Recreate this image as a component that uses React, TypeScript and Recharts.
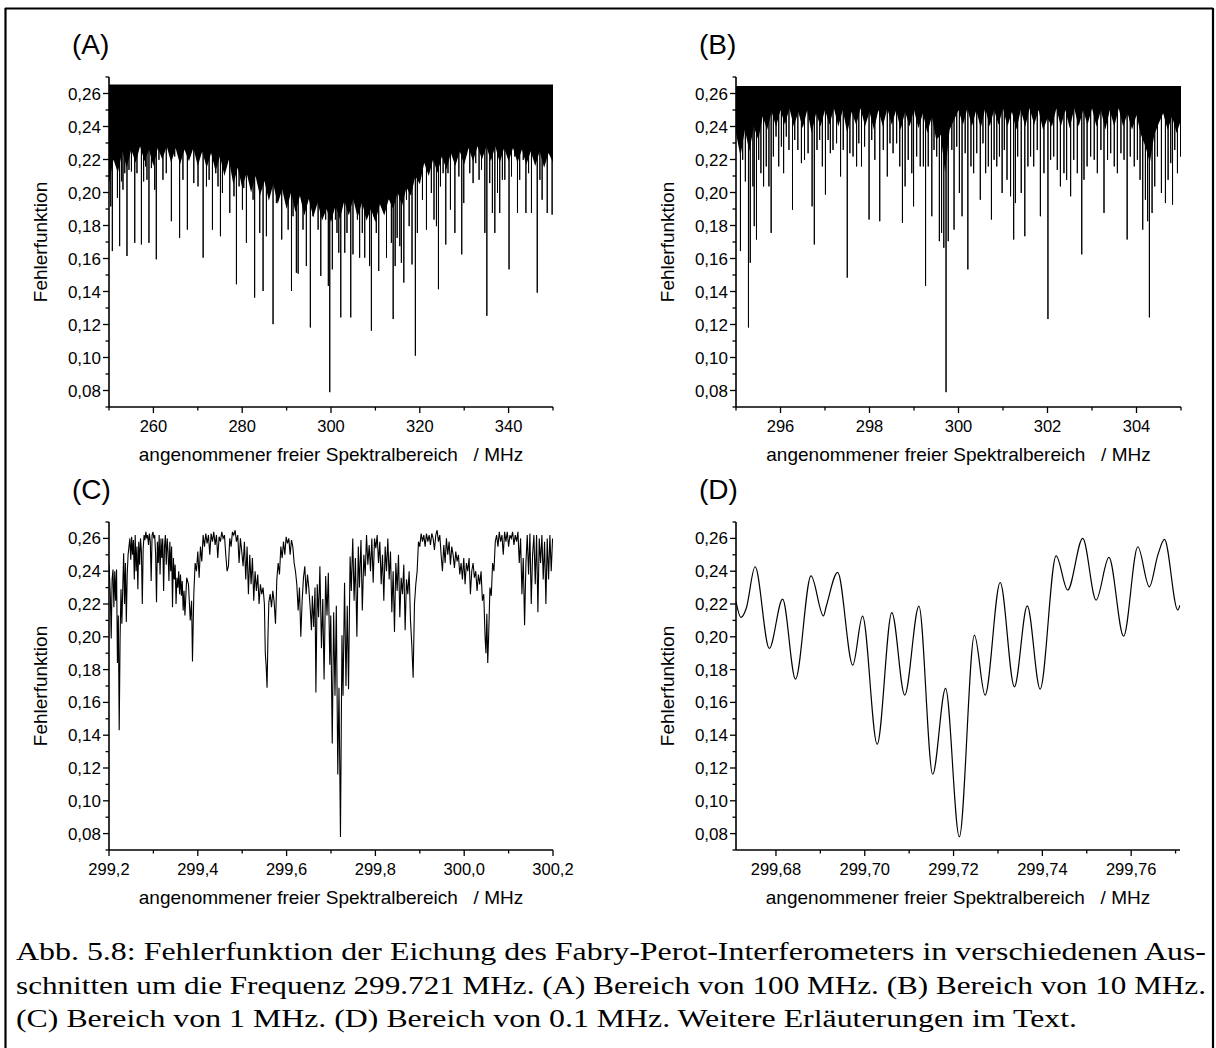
import React from "react";
import { ComposedChart, Line, Area, XAxis, YAxis } from "recharts";

const SANS = '"Liberation Sans", Arial, Helvetica, sans-serif';
const SERIF = '"Liberation Serif", "Times New Roman", serif';

// shared y axis
const Y_DOMAIN: [number, number] = [0.07, 0.27];
const yTicks = [0.07, 0.08, 0.09, 0.1, 0.11, 0.12, 0.13, 0.14, 0.15, 0.16, 0.17, 0.18, 0.19, 0.2, 0.21, 0.22, 0.23, 0.24, 0.25, 0.26, 0.27];
const yLabels = ["", "0,08", "", "0,10", "", "0,12", "", "0,14", "", "0,16", "", "0,18", "", "0,20", "", "0,22", "", "0,24", "", "0,26", ""];

// (A) 100 MHz window
const xTicksA = [250, 260, 270, 280, 290, 300, 310, 320, 330, 340, 350];
const xLabelsA = ["", "260", "", "280", "", "300", "", "320", "", "340", ""];
const bandTopA = 0.2655;
// lower edge of the dense (solid black) part of the trace
const bandLowA: [number, number][] = [
  [250, 0.205], [251, 0.22], [252, 0.212], [253, 0.225], [254, 0.215], [255, 0.226], [256, 0.218], [257, 0.228],
  [258, 0.219], [259, 0.226], [260, 0.216], [261, 0.227], [262, 0.22], [263, 0.228], [264, 0.218], [265, 0.227],
  [266, 0.217], [267, 0.226], [268, 0.219], [269, 0.227], [270, 0.216], [271, 0.225], [272, 0.215], [273, 0.224],
  [274, 0.213], [275, 0.222], [276, 0.21], [277, 0.22], [278, 0.205], [279, 0.215], [280, 0.203], [281, 0.212],
  [282, 0.2], [283, 0.21], [284, 0.198], [285, 0.207], [286, 0.195], [287, 0.205], [288, 0.193], [289, 0.202],
  [290, 0.19], [291, 0.2], [292, 0.188], [293, 0.198], [294, 0.186], [295, 0.196], [296, 0.185], [297, 0.194],
  [298, 0.183], [299, 0.19], [300, 0.182], [301, 0.192], [302, 0.184], [303, 0.195], [304, 0.186], [305, 0.196],
  [306, 0.185], [307, 0.194], [308, 0.183], [309, 0.19], [310, 0.182], [311, 0.193], [312, 0.186], [313, 0.196],
  [314, 0.19], [315, 0.2], [316, 0.192], [317, 0.203], [318, 0.198], [319, 0.21], [320, 0.205], [321, 0.218],
  [322, 0.21], [323, 0.22], [324, 0.212], [325, 0.222], [326, 0.214], [327, 0.224], [328, 0.216], [329, 0.225],
  [330, 0.217], [331, 0.227], [332, 0.219], [333, 0.228], [334, 0.22], [335, 0.228], [336, 0.219], [337, 0.228],
  [338, 0.218], [339, 0.227], [340, 0.219], [341, 0.227], [342, 0.218], [343, 0.226], [344, 0.217], [345, 0.225],
  [346, 0.216], [347, 0.225], [348, 0.215], [349, 0.224], [350, 0.218],
];
const spikesA: [number, number][] = [
  [250.4, 0.1916], [250.75, 0.1645], [251.5, 0.2178], [251.9, 0.1967], [252.4, 0.1675], [252.85, 0.2067],
  [253.15, 0.2017], [253.55, 0.2117], [254.05, 0.1615], [254.5, 0.2137], [255.05, 0.2127], [255.8, 0.1695],
  [256.3, 0.2117], [256.7, 0.2349], [257.3, 0.1685], [257.8, 0.2067], [258.25, 0.2158], [258.55, 0.2077],
  [259.0, 0.1695], [259.55, 0.2148], [259.9, 0.2238], [260.3, 0.2017], [260.65, 0.1595], [261.25, 0.2198],
  [261.65, 0.2298], [262.15, 0.2077], [262.9, 0.2117], [264.05, 0.1826], [264.8, 0.2218], [265.9, 0.1725],
  [266.65, 0.2077], [267.65, 0.1775], [268.15, 0.2218], [269.1, 0.2057], [270.05, 0.2037], [271.2, 0.1605],
  [271.95, 0.2037], [272.55, 0.2077], [273.3, 0.1775], [274.05, 0.2117], [274.55, 0.2037], [275.1, 0.1735],
  [275.55, 0.1997], [276.45, 0.2158], [277.2, 0.1876], [278.15, 0.1977], [278.7, 0.1444], [279.3, 0.2037],
  [280.05, 0.1896], [280.35, 0.2027], [280.95, 0.1695], [281.85, 0.2178], [282.45, 0.1956], [282.8, 0.1363],
  [283.55, 0.2117], [283.95, 0.1755], [284.45, 0.2137], [284.7, 0.1403], [285.45, 0.1735], [286.05, 0.2037],
  [286.95, 0.1202], [287.7, 0.1936], [288.3, 0.2037], [288.9, 0.1715], [289.6, 0.2158], [290.35, 0.1775],
  [291.1, 0.1403], [291.45, 0.1856], [292.2, 0.1514], [292.6, 0.1508], [293.35, 0.2037], [293.7, 0.1775],
  [294.45, 0.1554], [295.35, 0.1182], [295.95, 0.1856], [296.55, 0.2168], [297.1, 0.1775], [297.7, 0.1494],
  [298.2, 0.1956], [298.8, 0.1836], [299.4, 0.1434], [299.72, 0.079], [300.3, 0.1534], [301.0, 0.1836],
  [301.35, 0.1755], [301.75, 0.1635], [302.2, 0.1243], [302.7, 0.1956], [303.1, 0.1635], [303.6, 0.1755],
  [304.45, 0.1243], [304.95, 0.1625], [305.55, 0.1956], [305.95, 0.1836], [306.45, 0.1605], [307.05, 0.1755],
  [307.6, 0.1605], [308.1, 0.1876], [308.7, 0.1554], [309.1, 0.1162], [309.6, 0.1856], [310.2, 0.1755],
  [310.75, 0.1524], [311.35, 0.2037], [311.75, 0.2077], [312.5, 0.1605], [313.1, 0.1956], [313.6, 0.1695],
  [314.0, 0.1233], [314.45, 0.1554], [314.9, 0.1725], [315.5, 0.1675], [315.85, 0.1574], [316.4, 0.1454],
  [317.0, 0.1956], [317.6, 0.1796], [318.25, 0.1564], [319.0, 0.1011], [319.45, 0.1755], [320.0, 0.2198],
  [320.6, 0.1956], [321.5, 0.1775], [322.1, 0.2198], [322.6, 0.1997], [323.2, 0.1836], [323.75, 0.1796],
  [324.2, 0.1414], [324.65, 0.2037], [325.25, 0.2117], [325.85, 0.1685], [326.35, 0.2117], [326.9, 0.1896],
  [327.9, 0.1755], [328.25, 0.2218], [328.8, 0.2097], [329.45, 0.1625], [329.9, 0.1936], [330.5, 0.2238],
  [331.25, 0.2117], [332.0, 0.2057], [332.6, 0.2178], [333.35, 0.2077], [333.9, 0.2137], [334.65, 0.1755],
  [335.1, 0.1253], [335.75, 0.2057], [336.35, 0.1876], [336.9, 0.1755], [337.5, 0.1997], [338.0, 0.1876],
  [338.6, 0.2077], [339.15, 0.2077], [340.1, 0.1534], [340.65, 0.2097], [341.4, 0.2218], [342.0, 0.1876],
  [342.5, 0.2077], [343.3, 0.2198], [343.9, 0.1876], [344.5, 0.2117], [345.15, 0.1876], [345.9, 0.2218],
  [346.45, 0.1393], [347.05, 0.2077], [347.55, 0.1956], [348.15, 0.2198], [348.7, 0.1876], [349.3, 0.2238],
  [349.8, 0.1866],
];

// (B) 10 MHz window
const xTicksB = [295, 296, 297, 298, 299, 300, 301, 302, 303, 304, 305];
const xLabelsB = ["", "296", "", "298", "", "300", "", "302", "", "304", ""];
const bandTopB = 0.2645;
const bandLowB: [number, number][] = [
  [295.0, 0.236], [295.1, 0.222], [295.2, 0.238], [295.3, 0.225], [295.4, 0.24], [295.5, 0.232], [295.6, 0.246],
  [295.7, 0.238], [295.8, 0.249], [295.9, 0.24], [296.0, 0.25], [296.1, 0.241], [296.2, 0.251], [296.3, 0.24],
  [296.4, 0.249], [296.5, 0.239], [296.6, 0.25], [296.7, 0.236], [296.8, 0.248], [296.9, 0.24], [297.0, 0.25],
  [297.1, 0.241], [297.2, 0.251], [297.3, 0.24], [297.4, 0.25], [297.5, 0.236], [297.6, 0.249], [297.7, 0.241],
  [297.8, 0.251], [297.9, 0.24], [298.0, 0.249], [298.1, 0.238], [298.2, 0.25], [298.3, 0.24], [298.4, 0.251],
  [298.5, 0.241], [298.6, 0.25], [298.7, 0.238], [298.8, 0.249], [298.9, 0.24], [299.0, 0.25], [299.1, 0.239],
  [299.2, 0.248], [299.3, 0.236], [299.4, 0.246], [299.5, 0.232], [299.6, 0.235], [299.7, 0.212], [299.8, 0.238],
  [299.9, 0.244], [300.0, 0.25], [300.1, 0.241], [300.2, 0.251], [300.3, 0.24], [300.4, 0.25], [300.5, 0.239],
  [300.6, 0.251], [300.7, 0.24], [300.8, 0.25], [300.9, 0.241], [301.0, 0.251], [301.1, 0.24], [301.2, 0.249],
  [301.3, 0.238], [301.4, 0.25], [301.5, 0.24], [301.6, 0.251], [301.7, 0.241], [301.8, 0.25], [301.9, 0.238],
  [302.0, 0.245], [302.1, 0.24], [302.2, 0.251], [302.3, 0.24], [302.4, 0.25], [302.5, 0.239], [302.6, 0.251],
  [302.7, 0.24], [302.8, 0.25], [302.9, 0.241], [303.0, 0.251], [303.1, 0.24], [303.2, 0.25], [303.3, 0.238],
  [303.4, 0.25], [303.5, 0.24], [303.6, 0.251], [303.7, 0.24], [303.8, 0.248], [303.9, 0.238], [304.0, 0.247],
  [304.1, 0.235], [304.2, 0.228], [304.3, 0.218], [304.4, 0.235], [304.5, 0.242], [304.6, 0.248], [304.7, 0.238],
  [304.8, 0.246], [304.9, 0.236], [305.0, 0.244],
];
const spikesB: [number, number][] = [
  [295.04, 0.25], [295.1, 0.1645], [295.15, 0.2198], [295.21, 0.2067], [295.28, 0.1182], [295.32, 0.1574],
  [295.38, 0.2037], [295.41, 0.1796], [295.46, 0.1715], [295.51, 0.2198], [295.56, 0.2117], [295.62, 0.2037],
  [295.68, 0.2158], [295.74, 0.2037], [295.79, 0.1755], [295.84, 0.2218], [295.9, 0.2339], [295.96, 0.2158],
  [296.02, 0.2278], [296.07, 0.2117], [296.13, 0.2339], [296.19, 0.2258], [296.27, 0.1896], [296.32, 0.2318],
  [296.39, 0.2258], [296.47, 0.2178], [296.54, 0.2198], [296.62, 0.2238], [296.71, 0.1916], [296.76, 0.1685],
  [296.82, 0.2258], [296.88, 0.2318], [296.94, 0.2158], [297.01, 0.1987], [297.07, 0.2318], [297.12, 0.2238],
  [297.18, 0.2258], [297.26, 0.2298], [297.35, 0.2097], [297.41, 0.2258], [297.5, 0.1484], [297.56, 0.2238],
  [297.63, 0.2218], [297.71, 0.2158], [297.76, 0.2298], [297.82, 0.2158], [297.89, 0.2278], [297.99, 0.1836],
  [298.05, 0.2318], [298.12, 0.2198], [298.23, 0.1826], [298.31, 0.2258], [298.4, 0.2097], [298.46, 0.2298],
  [298.53, 0.2238], [298.61, 0.2298], [298.68, 0.2158], [298.74, 0.1816], [298.8, 0.2037], [298.87, 0.2198],
  [298.95, 0.2117], [298.99, 0.1916], [299.06, 0.2218], [299.14, 0.2158], [299.21, 0.2158], [299.26, 0.1434],
  [299.32, 0.2158], [299.4, 0.1856], [299.45, 0.2258], [299.51, 0.2218], [299.57, 0.1705], [299.62, 0.1755],
  [299.67, 0.1665], [299.72, 0.079], [299.77, 0.1705], [299.85, 0.2258], [299.9, 0.1775], [299.96, 0.2278],
  [300.02, 0.1997], [300.08, 0.1856], [300.15, 0.2238], [300.21, 0.1534], [300.28, 0.2158], [300.34, 0.2117],
  [300.41, 0.2238], [300.49, 0.1956], [300.55, 0.2298], [300.61, 0.2117], [300.67, 0.2158], [300.74, 0.1836],
  [300.8, 0.2198], [300.86, 0.2158], [300.92, 0.2218], [300.98, 0.1997], [301.03, 0.2258], [301.09, 0.2077],
  [301.17, 0.1977], [301.24, 0.1715], [301.28, 0.1936], [301.33, 0.2218], [301.41, 0.1997], [301.49, 0.1735],
  [301.56, 0.2158], [301.62, 0.2218], [301.69, 0.2158], [301.77, 0.2258], [301.84, 0.1856], [301.92, 0.2117],
  [302.01, 0.1233], [302.07, 0.2198], [302.14, 0.2218], [302.22, 0.2137], [302.29, 0.2037], [302.37, 0.2117],
  [302.43, 0.2077], [302.52, 0.1977], [302.59, 0.2198], [302.67, 0.2117], [302.77, 0.1625], [302.82, 0.2077],
  [302.89, 0.2158], [302.97, 0.2218], [303.05, 0.2198], [303.12, 0.2117], [303.2, 0.2258], [303.27, 0.1876],
  [303.35, 0.2198], [303.42, 0.2238], [303.5, 0.2158], [303.57, 0.2117], [303.65, 0.2238], [303.72, 0.2198],
  [303.79, 0.1715], [303.86, 0.2218], [303.95, 0.2158], [304.02, 0.2198], [304.08, 0.2077], [304.14, 0.1775],
  [304.2, 0.1956], [304.25, 0.1826], [304.29, 0.1243], [304.35, 0.1876], [304.41, 0.2037], [304.47, 0.2218],
  [304.56, 0.1997], [304.65, 0.1936], [304.71, 0.2077], [304.77, 0.2178], [304.81, 0.1926], [304.86, 0.2258],
  [304.92, 0.2117], [304.99, 0.2218],
];

// (C) 1 MHz window
const xTicksC = [299.2, 299.3, 299.4, 299.5, 299.6, 299.7, 299.8, 299.9, 300.0, 300.1, 300.2];
const xLabelsC = ["299,2", "", "299,4", "", "299,6", "", "299,8", "", "300,0", "", "300,2"];
const traceC: [number, number][] = [
  [299.2, 0.244], [299.203, 0.225], [299.205, 0.199], [299.207, 0.235], [299.209, 0.241], [299.211, 0.218],
  [299.213, 0.24], [299.215, 0.222], [299.217, 0.241], [299.219, 0.184], [299.221, 0.213], [299.223, 0.143],
  [299.225, 0.2], [299.227, 0.229], [299.229, 0.208], [299.231, 0.23], [299.233, 0.251], [299.235, 0.22],
  [299.237, 0.245], [299.239, 0.209], [299.241, 0.238], [299.243, 0.25], [299.245, 0.255], [299.247, 0.26],
  [299.249, 0.247], [299.251, 0.261], [299.253, 0.25], [299.255, 0.259], [299.257, 0.235], [299.259, 0.262],
  [299.261, 0.24], [299.263, 0.255], [299.265, 0.229], [299.267, 0.258], [299.269, 0.244], [299.271, 0.26],
  [299.273, 0.252], [299.275, 0.22], [299.277, 0.254], [299.279, 0.262], [299.281, 0.259], [299.283, 0.264],
  [299.285, 0.26], [299.287, 0.262], [299.289, 0.256], [299.291, 0.263], [299.293, 0.258], [299.295, 0.234],
  [299.297, 0.262], [299.299, 0.264], [299.301, 0.26], [299.303, 0.262], [299.305, 0.25], [299.307, 0.221],
  [299.309, 0.258], [299.311, 0.245], [299.313, 0.262], [299.315, 0.238], [299.317, 0.26], [299.319, 0.248],
  [299.321, 0.26], [299.323, 0.228], [299.325, 0.255], [299.327, 0.262], [299.329, 0.244], [299.331, 0.26],
  [299.333, 0.252], [299.335, 0.234], [299.337, 0.258], [299.339, 0.24], [299.341, 0.255], [299.343, 0.218],
  [299.345, 0.248], [299.347, 0.235], [299.349, 0.244], [299.351, 0.22], [299.353, 0.236], [299.355, 0.23],
  [299.357, 0.24], [299.359, 0.226], [299.361, 0.238], [299.363, 0.225], [299.365, 0.234], [299.367, 0.216],
  [299.369, 0.228], [299.371, 0.213], [299.375, 0.236], [299.379, 0.232], [299.383, 0.21], [299.386, 0.222],
  [299.388, 0.185], [299.391, 0.226], [299.394, 0.245], [299.397, 0.24], [299.4, 0.252], [299.403, 0.236],
  [299.406, 0.255], [299.409, 0.246], [299.412, 0.262], [299.415, 0.255], [299.418, 0.263], [299.421, 0.257],
  [299.424, 0.262], [299.427, 0.25], [299.43, 0.263], [299.433, 0.258], [299.436, 0.264], [299.439, 0.256],
  [299.442, 0.262], [299.445, 0.248], [299.448, 0.261], [299.451, 0.258], [299.454, 0.264], [299.457, 0.26],
  [299.46, 0.262], [299.463, 0.25], [299.466, 0.24], [299.469, 0.243], [299.472, 0.26], [299.475, 0.255],
  [299.478, 0.264], [299.481, 0.262], [299.484, 0.265], [299.487, 0.258], [299.49, 0.262], [299.493, 0.245],
  [299.496, 0.26], [299.499, 0.252], [299.502, 0.243], [299.505, 0.258], [299.508, 0.235], [299.511, 0.255],
  [299.514, 0.226], [299.517, 0.25], [299.52, 0.232], [299.523, 0.248], [299.526, 0.222], [299.529, 0.24],
  [299.532, 0.228], [299.535, 0.238], [299.538, 0.22], [299.541, 0.232], [299.544, 0.226], [299.547, 0.23],
  [299.55, 0.22], [299.552, 0.19], [299.554, 0.182], [299.556, 0.169], [299.558, 0.2], [299.56, 0.221],
  [299.563, 0.226], [299.566, 0.218], [299.569, 0.228], [299.572, 0.221], [299.575, 0.208], [299.578, 0.235],
  [299.581, 0.245], [299.584, 0.238], [299.587, 0.255], [299.59, 0.248], [299.593, 0.258], [299.596, 0.25],
  [299.599, 0.261], [299.602, 0.257], [299.605, 0.26], [299.608, 0.25], [299.611, 0.259], [299.614, 0.255],
  [299.617, 0.245], [299.62, 0.24], [299.623, 0.232], [299.626, 0.216], [299.629, 0.23], [299.632, 0.2],
  [299.635, 0.222], [299.638, 0.236], [299.641, 0.243], [299.644, 0.226], [299.647, 0.238], [299.65, 0.23],
  [299.653, 0.218], [299.656, 0.204], [299.658, 0.225], [299.661, 0.206], [299.664, 0.23], [299.666, 0.166],
  [299.669, 0.232], [299.672, 0.212], [299.675, 0.243], [299.6785, 0.193], [299.6815, 0.223], [299.6844, 0.174],
  [299.688, 0.237], [299.691, 0.213], [299.694, 0.239], [299.6973, 0.183], [299.6995, 0.213], [299.7028, 0.135],
  [299.706, 0.215], [299.709, 0.164], [299.712, 0.219], [299.7153, 0.116], [299.718, 0.169], [299.7213, 0.078],
  [299.7247, 0.201], [299.7271, 0.164], [299.7305, 0.233], [299.7337, 0.17], [299.7366, 0.219], [299.7395, 0.168],
  [299.743, 0.249], [299.7457, 0.228], [299.749, 0.26], [299.752, 0.222], [299.755, 0.248], [299.7583, 0.2],
  [299.7615, 0.255], [299.764, 0.23], [299.7675, 0.259], [299.7705, 0.216], [299.774, 0.25], [299.777, 0.237],
  [299.78, 0.262], [299.783, 0.244], [299.786, 0.256], [299.789, 0.24], [299.792, 0.26], [299.795, 0.233],
  [299.798, 0.26], [299.801, 0.254], [299.804, 0.262], [299.807, 0.245], [299.81, 0.258], [299.813, 0.232],
  [299.816, 0.25], [299.819, 0.222], [299.822, 0.255], [299.825, 0.24], [299.828, 0.26], [299.831, 0.235],
  [299.834, 0.252], [299.837, 0.215], [299.84, 0.24], [299.843, 0.203], [299.846, 0.245], [299.849, 0.228],
  [299.852, 0.25], [299.855, 0.212], [299.858, 0.236], [299.861, 0.226], [299.864, 0.244], [299.867, 0.204],
  [299.87, 0.235], [299.873, 0.226], [299.876, 0.24], [299.879, 0.21], [299.882, 0.195], [299.885, 0.175],
  [299.888, 0.22], [299.891, 0.232], [299.894, 0.24], [299.897, 0.258], [299.9, 0.255], [299.903, 0.263],
  [299.906, 0.258], [299.909, 0.262], [299.912, 0.255], [299.915, 0.263], [299.918, 0.258], [299.921, 0.262],
  [299.924, 0.256], [299.927, 0.263], [299.93, 0.26], [299.933, 0.253], [299.936, 0.262], [299.939, 0.265],
  [299.942, 0.258], [299.945, 0.262], [299.948, 0.25], [299.951, 0.24], [299.954, 0.256], [299.957, 0.245],
  [299.96, 0.26], [299.963, 0.25], [299.966, 0.258], [299.969, 0.244], [299.972, 0.255], [299.975, 0.25],
  [299.978, 0.242], [299.981, 0.252], [299.984, 0.246], [299.987, 0.25], [299.99, 0.238], [299.993, 0.245],
  [299.996, 0.235], [299.999, 0.248], [300.002, 0.232], [300.005, 0.245], [300.008, 0.24], [300.011, 0.248],
  [300.014, 0.226], [300.017, 0.24], [300.02, 0.245], [300.023, 0.236], [300.026, 0.24], [300.029, 0.228],
  [300.032, 0.238], [300.035, 0.232], [300.038, 0.24], [300.041, 0.222], [300.044, 0.226], [300.047, 0.2],
  [300.049, 0.19], [300.051, 0.214], [300.053, 0.184], [300.055, 0.2], [300.058, 0.23], [300.061, 0.225],
  [300.064, 0.245], [300.067, 0.24], [300.07, 0.258], [300.073, 0.262], [300.076, 0.255], [300.079, 0.264],
  [300.082, 0.258], [300.085, 0.262], [300.088, 0.25], [300.091, 0.264], [300.094, 0.258], [300.097, 0.264],
  [300.1, 0.255], [300.103, 0.262], [300.106, 0.26], [300.109, 0.264], [300.112, 0.256], [300.115, 0.262],
  [300.118, 0.258], [300.121, 0.264], [300.124, 0.245], [300.127, 0.26], [300.13, 0.226], [300.133, 0.248],
  [300.136, 0.207], [300.139, 0.245], [300.142, 0.262], [300.145, 0.238], [300.148, 0.263], [300.151, 0.22],
  [300.154, 0.25], [300.157, 0.262], [300.16, 0.232], [300.163, 0.262], [300.166, 0.215], [300.169, 0.26],
  [300.172, 0.245], [300.175, 0.262], [300.178, 0.235], [300.181, 0.258], [300.184, 0.22], [300.187, 0.26],
  [300.19, 0.235], [300.193, 0.262], [300.196, 0.24], [300.199, 0.26],
];

// (D) 0.1 MHz window
const xTicksD = [299.68, 299.69, 299.7, 299.71, 299.72, 299.73, 299.74, 299.75, 299.76, 299.77];
const xLabelsD = ["299,68", "", "299,70", "", "299,72", "", "299,74", "", "299,76", ""];
const traceD: [number, number][] = [
  [299.671, 0.2214], [299.6721, 0.2118], [299.6733, 0.2173], [299.6753, 0.2427], [299.6785, 0.1929],
  [299.6815, 0.223], [299.6844, 0.1742], [299.6879, 0.2372], [299.6907, 0.2128], [299.6913, 0.2183],
  [299.6939, 0.2393], [299.6973, 0.1827], [299.6995, 0.2126], [299.7028, 0.1345], [299.7061, 0.2148],
  [299.709, 0.1644], [299.7122, 0.2187], [299.7153, 0.1162], [299.7182, 0.1685], [299.7213, 0.078],
  [299.7247, 0.201], [299.7271, 0.1644], [299.7305, 0.2331], [299.7337, 0.1695], [299.7366, 0.2189],
  [299.7395, 0.1681], [299.7431, 0.2494], [299.7457, 0.2285], [299.7491, 0.26], [299.7521, 0.2224],
  [299.755, 0.2484], [299.7583, 0.2004], [299.7615, 0.2549], [299.7641, 0.2305], [299.766, 0.2498],
  [299.7675, 0.2594], [299.7705, 0.2163], [299.771, 0.2193],
];

const captionLines = [
  "Abb. 5.8: Fehlerfunktion der Eichung des Fabry-Perot-Interferometers in verschiedenen Aus-",
  "schnitten um die Frequenz 299.721 MHz. (A) Bereich von 100 MHz. (B) Bereich von 10 MHz.",
  "(C) Bereich von 1 MHz. (D) Bereich von 0.1 MHz. Weitere Erläuterungen im Text.",
];
const X_TITLE = "angenommener freier Spektralbereich   / MHz";
const Y_TITLE = "Fehlerfunktion";

const bandRows = (low: [number, number][], top: number) => low.map(([x, lo]) => ({ x, band: [lo, top] }));
const spikeRows = (spikes: [number, number][], top: number) =>
  spikes.flatMap(([x, d]) => [{ x, y: top }, { x, y: d }, { x, y: top }]);
const traceRows = (t: [number, number][]) => t.map(([x, y]) => ({ x, y }));

type Side = "bottom" | "top" | "left" | "right";

function tickRenderer(side: Side, ticks: number[], labels: string[]) {
  return (props: any) => {
    const { x, y, payload } = props;
    const i = ticks.findIndex((t) => Math.abs(t - payload.value) < 1e-9);
    const label = i >= 0 ? labels[i] : "";
    const len = label ? 6 : 3.5;
    const st = { stroke: "#000", strokeWidth: 1.3 };
    if (side === "bottom") {
      return (
        <g>
          <line x1={x} y1={y} x2={x} y2={y + len} {...st} />
          {label ? (
            <text x={x} y={y + 25} textAnchor="middle" fontSize={16.5} fontFamily={SANS} fill="#000">
              {label}
            </text>
          ) : null}
        </g>
      );
    }
    if (side === "top") return <line x1={x} y1={y} x2={x} y2={y + len} {...st} />;
    if (side === "left") {
      return (
        <g>
          <line x1={x - len} y1={y} x2={x} y2={y} {...st} />
          {label ? (
            <text x={x - 8} y={y + 6} textAnchor="end" fontSize={17} fontFamily={SANS} fill="#000">
              {label}
            </text>
          ) : null}
        </g>
      );
    }
    return <line x1={x - len} y1={y} x2={x} y2={y} {...st} />;
  };
}

type PanelProps = {
  left: number;
  top: number;
  w: number;
  h: number;
  xDomain: [number, number];
  xTicks: number[];
  xLabels: string[];
  children: React.ReactNode;
};

function Panel({ left, top, w, h, xDomain, xTicks, xLabels, children }: PanelProps) {
  const axisLine = { stroke: "#000", strokeWidth: 1.6 };
  return (
    <div style={{ position: "absolute", left: left - 70, top: top - 4 }}>
      <ComposedChart width={w + 100} height={h + 44} margin={{ top: 4, right: 30, bottom: 0, left: 0 }}>
        <XAxis
          xAxisId="b"
          type="number"
          dataKey="x"
          domain={xDomain}
          ticks={xTicks}
          interval={0}
          allowDataOverflow
          height={40}
          tickSize={0}
          tickMargin={0}
          tickLine={false}
          axisLine={axisLine}
          tick={tickRenderer("bottom", xTicks, xLabels)}
        />
        <XAxis
          xAxisId="t"
          orientation="top"
          type="number"
          dataKey="x"
          domain={xDomain}
          ticks={xTicks}
          interval={0}
          allowDataOverflow
          height={0}
          tickSize={0}
          tickMargin={0}
          tickLine={false}
          axisLine={axisLine}
          tick={tickRenderer("top", xTicks, xLabels)}
        />
        <YAxis
          yAxisId="l"
          type="number"
          domain={Y_DOMAIN}
          ticks={yTicks}
          interval={0}
          allowDataOverflow
          width={70}
          tickSize={0}
          tickMargin={0}
          tickLine={false}
          axisLine={axisLine}
          tick={tickRenderer("left", yTicks, yLabels)}
        />
        <YAxis
          yAxisId="r"
          orientation="right"
          type="number"
          domain={Y_DOMAIN}
          ticks={yTicks}
          interval={0}
          allowDataOverflow
          width={0}
          tickSize={0}
          tickMargin={0}
          tickLine={false}
          axisLine={axisLine}
          tick={tickRenderer("right", yTicks, yLabels)}
        />
        {children}
      </ComposedChart>
    </div>
  );
}

const panels = [
  { key: "A", left: 109, top: 77, w: 444, h: 330 },
  { key: "B", left: 736, top: 77, w: 445, h: 330 },
  { key: "C", left: 109, top: 522, w: 444, h: 328 },
  { key: "D", left: 736, top: 522, w: 444, h: 328 },
];

export default function App() {
  const [pA, pB, pC, pD] = panels;
  return (
    <div style={{ position: "absolute", left: 0, top: 0, width: 1216, height: 1048, background: "#fff" }}>
      <svg width={1216} height={1048} style={{ position: "absolute", left: 0, top: 0 }}>
        {/* frame */}
        <line x1={5} y1={8.5} x2={1213} y2={8.5} stroke="#000" strokeWidth={2.2} />
        <line x1={5.5} y1={8} x2={5.5} y2={1048} stroke="#000" strokeWidth={2.2} />
        <line x1={1213} y1={8} x2={1213} y2={1048} stroke="#000" strokeWidth={2.2} />
        {panels.map((p) => (
          <g key={p.key}>
            <text x={p.left - 37} y={p.top - 23} fontSize={28} fontFamily={SANS} fill="#000">
              ({p.key})
            </text>
            <text
              x={p.left + p.w / 2}
              y={p.top + p.h + 54}
              textAnchor="middle"
              fontSize={19}
              fontFamily={SANS}
              fill="#000"
              xmlSpace="preserve"
              style={{ whiteSpace: "pre" }}
            >
              {X_TITLE}
            </text>
            <text
              transform={`translate(${p.left - 62}, ${p.top + p.h / 2}) rotate(-90)`}
              textAnchor="middle"
              fontSize={19}
              fontFamily={SANS}
              fill="#000"
            >
              {Y_TITLE}
            </text>
          </g>
        ))}
        {captionLines.map((line, i) => (
          <text
            key={i}
            x={16}
            y={960 + i * 33.5}
            fontSize={25.5}
            fontFamily={SERIF}
            fill="#000"
            textLength={i < 2 ? 1190 : 1061}
            lengthAdjust="spacingAndGlyphs"
          >
            {line}
          </text>
        ))}
      </svg>

      <Panel left={pA.left} top={pA.top} w={pA.w} h={pA.h} xDomain={[250, 350]} xTicks={xTicksA} xLabels={xLabelsA}>
        <Area
          xAxisId="b"
          yAxisId="l"
          data={bandRows(bandLowA, bandTopA)}
          dataKey="band"
          type="linear"
          stroke="none"
          fill="#000"
          fillOpacity={1}
          isAnimationActive={false}
        />
        <Line
          xAxisId="b"
          yAxisId="l"
          data={spikeRows(spikesA, bandTopA - 0.001)}
          dataKey="y"
          type="linear"
          stroke="#000"
          strokeWidth={1}
          dot={false}
          activeDot={false}
          isAnimationActive={false}
        />
      </Panel>

      <Panel left={pB.left} top={pB.top} w={pB.w} h={pB.h} xDomain={[295, 305]} xTicks={xTicksB} xLabels={xLabelsB}>
        <Area
          xAxisId="b"
          yAxisId="l"
          data={bandRows(bandLowB, bandTopB)}
          dataKey="band"
          type="linear"
          stroke="none"
          fill="#000"
          fillOpacity={1}
          isAnimationActive={false}
        />
        <Line
          xAxisId="b"
          yAxisId="l"
          data={spikeRows(spikesB, bandTopB - 0.001)}
          dataKey="y"
          type="linear"
          stroke="#000"
          strokeWidth={1}
          dot={false}
          activeDot={false}
          isAnimationActive={false}
        />
      </Panel>

      <Panel left={pC.left} top={pC.top} w={pC.w} h={pC.h} xDomain={[299.2, 300.2]} xTicks={xTicksC} xLabels={xLabelsC}>
        <Line
          xAxisId="b"
          yAxisId="l"
          data={traceRows(traceC)}
          dataKey="y"
          type="linear"
          stroke="#000"
          strokeWidth={1.1}
          dot={false}
          activeDot={false}
          isAnimationActive={false}
        />
      </Panel>

      <Panel left={pD.left} top={pD.top} w={pD.w} h={pD.h} xDomain={[299.671, 299.771]} xTicks={xTicksD} xLabels={xLabelsD}>
        <Line
          xAxisId="b"
          yAxisId="l"
          data={traceRows(traceD)}
          dataKey="y"
          type="monotone"
          stroke="#000"
          strokeWidth={1.2}
          dot={false}
          activeDot={false}
          isAnimationActive={false}
        />
      </Panel>
    </div>
  );
}
